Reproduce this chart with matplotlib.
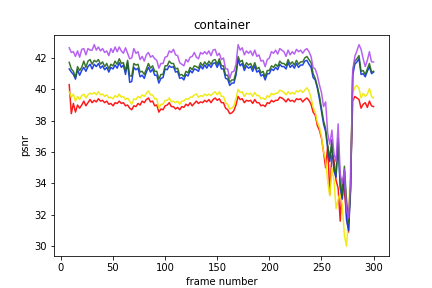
import numpy as np
import matplotlib
matplotlib.use("Agg")
import matplotlib.pyplot as plt

frames = np.arange(8, 301, 2)

red = [40.3, 38.45, 39.1, 38.55, 39.0, 38.8, 39.0, 39.25, 38.95, 39.15,
       39.35, 39.15, 39.3, 39.2, 39.4, 39.25, 39.3, 39.15, 39.25, 39.05,
       39.1, 38.95, 39.15, 39.1, 39.25, 39.1, 39.15, 38.95, 39.0, 38.8,
       38.7, 38.95, 38.9, 39.1, 39.0, 39.25, 39.15, 39.35, 39.45, 39.2,
       39.25, 38.95, 39.0, 38.55, 38.75, 38.7, 38.95, 39.0, 39.15, 38.9,
       38.9, 38.75, 38.85, 38.7, 38.9, 38.85, 39.05, 38.95, 39.15, 38.95,
       39.1, 39.25, 39.1, 39.2, 39.15, 39.3, 39.2, 39.35, 39.15, 39.35,
       39.45, 39.3, 39.4, 39.15, 39.15, 38.8, 38.7, 38.45, 38.5, 38.65,
       39.0, 39.55, 39.35, 39.4, 39.15, 39.3, 39.25, 39.3, 39.1, 39.35,
       39.15, 39.15, 38.95, 39.0, 38.9, 39.15, 39.1, 39.3, 39.2, 39.3,
       39.3, 39.5, 39.45, 39.35, 39.2, 39.4, 39.25, 39.3, 39.2, 39.4,
       39.35, 39.4, 39.2, 39.35, 39.45, 39.3, 39.05, 38.55, 38.35, 37.7,
       37.4, 36.9, 36.0, 35.0, 36.4, 33.3, 35.8, 35.5, 34.2, 33.7,
       31.6, 34.3, 33.5, 32.0, 30.9, 34.5, 39.25, 39.55, 39.45, 39.35,
       38.8, 39.05, 39.15, 38.85, 39.25, 38.95, 38.9]

yellow = [39.85, 39.5, 39.7, 39.25, 39.55, 39.35, 39.6, 39.7, 39.45, 39.65,
          39.75, 39.7, 39.8, 39.65, 39.85, 39.65, 39.7, 39.55, 39.65, 39.45,
          39.5, 39.4, 39.6, 39.5, 39.7, 39.5, 39.55, 39.35, 39.45, 39.25,
          39.05, 39.4, 39.35, 39.55, 39.45, 39.65, 39.55, 39.75, 39.9, 39.65,
          39.65, 39.4, 39.4, 38.8, 39.05, 39.05, 39.3, 39.3, 39.45, 39.2,
          39.25, 39.15, 39.25, 39.05, 39.25, 39.25, 39.4, 39.35, 39.5, 39.5,
          39.65, 39.7, 39.5, 39.6, 39.55, 39.7, 39.6, 39.7, 39.6, 39.75,
          39.85, 39.65, 39.85, 39.55, 39.55, 39.15, 39.05, 38.75, 38.8, 38.95,
          39.4, 40.0, 39.8, 39.85, 39.55, 39.75, 39.7, 39.75, 39.55, 39.8,
          39.6, 39.6, 39.4, 39.45, 39.35, 39.6, 39.5, 39.75, 39.65, 39.75,
          39.75, 39.95, 39.9, 39.8, 39.65, 39.85, 39.7, 39.8, 39.7, 39.9,
          39.85, 39.95, 39.8, 39.95, 40.1, 39.9, 39.45, 38.85, 38.55, 37.9,
          37.6, 37.0, 36.0, 35.5, 34.1, 33.2, 35.0, 34.2, 32.4, 33.0,
          33.4, 32.6, 30.7, 30.0, 31.8, 35.5, 39.75, 40.15, 40.25, 40.05,
          39.45, 39.75, 39.55, 39.7, 40.05, 39.55, 39.45]

blue = [41.3, 41.1, 40.95, 40.65, 41.25, 40.9, 41.2, 41.4, 41.15, 41.45,
        41.6, 41.3, 41.6, 41.45, 41.65, 41.35, 41.5, 41.25, 41.4, 41.1,
        41.4, 41.3, 41.55, 41.35, 41.7, 41.4, 41.55, 40.95, 41.7, 40.45,
        40.5, 41.4, 41.25, 41.35, 40.8, 40.9, 40.7, 41.1, 41.4, 41.1,
        41.3, 40.9, 40.9, 40.4, 40.7, 40.75, 41.3, 41.25, 41.5, 41.4,
        41.45, 41.1, 41.15, 40.7, 40.75, 40.6, 40.95, 40.85, 41.2, 41.05,
        41.3, 41.25, 41.15, 41.5, 41.3, 41.55, 41.35, 41.6, 41.4, 41.65,
        41.7, 41.4, 41.75, 41.3, 41.3, 40.7, 40.65, 40.25, 40.4, 40.4,
        40.9, 41.9, 41.5, 41.65, 41.2, 41.5, 41.35, 41.45, 41.15, 41.5,
        41.1, 41.2, 40.85, 40.95, 40.6, 41.0, 41.0, 41.3, 41.2, 41.4,
        41.25, 41.6, 41.45, 41.45, 41.3, 41.7, 41.4, 41.55, 41.35, 41.65,
        41.4, 41.55, 41.55, 41.8, 41.85, 41.6, 41.4, 40.75, 40.6, 40.1,
        39.4, 38.6, 37.8, 37.3, 36.2, 35.4, 36.5, 34.8, 34.4, 36.6,
        33.7, 33.0, 34.8, 31.7, 31.0, 33.6, 40.9, 41.6, 41.75, 41.95,
        40.95, 41.0, 40.8, 41.15, 41.45, 41.0, 41.1]

green = [41.72, 41.3, 41.15, 40.75, 41.45, 41.2, 41.4, 41.8, 41.4, 41.8,
         41.9, 41.6, 41.85, 41.75, 41.9, 41.6, 41.75, 41.45, 41.65, 41.3,
         41.6, 41.5, 41.8, 41.6, 41.95, 41.65, 41.7, 41.15, 41.85, 40.85,
         40.85, 41.65, 41.55, 41.6, 41.1, 41.15, 40.95, 41.3, 41.65, 41.35,
         41.5, 41.15, 41.15, 40.65, 40.95, 40.95, 41.5, 41.5, 41.8, 41.65,
         41.65, 41.3, 41.35, 40.9, 40.95, 40.8, 41.15, 41.05, 41.4, 41.25,
         41.5, 41.45, 41.35, 41.7, 41.5, 41.75, 41.55, 41.8, 41.6, 41.85,
         41.9, 41.6, 41.95, 41.5, 41.5, 40.9, 40.9, 40.45, 40.6, 40.6,
         41.1, 42.1, 41.75, 41.85, 41.4, 41.7, 41.55, 41.65, 41.35, 41.7,
         41.3, 41.4, 41.05, 41.15, 40.8, 41.2, 41.2, 41.5, 41.4, 41.6,
         41.45, 41.8, 41.65, 41.65, 41.5, 41.9, 41.6, 41.75, 41.55, 41.85,
         41.6, 41.75, 41.75, 42.0, 42.1, 41.9, 41.7, 41.0, 40.7, 40.2,
         39.6, 38.8, 38.0, 37.5, 36.4, 35.6, 36.8, 35.0, 34.6, 36.9,
         33.9, 33.2, 35.1, 33.0, 31.5, 33.8, 41.2, 41.8, 41.95, 42.15,
         41.15, 41.2, 40.95, 41.3, 41.65, 41.1, 41.15]

purple = [42.65, 42.35, 42.4, 42.1, 42.45, 42.05, 42.55, 42.6, 42.2, 42.6,
          42.5, 42.5, 42.85, 42.5, 42.7, 42.45, 42.6, 42.35, 42.45, 42.15,
          42.6, 42.35, 42.7, 42.4, 42.7, 42.45, 42.3, 42.65, 42.3, 41.95,
          42.0, 42.6, 42.3, 42.4, 41.9, 42.1, 41.8, 42.2, 42.35, 42.05,
          42.15, 41.95, 41.85, 41.35, 41.65, 41.65, 42.05, 42.1, 42.45, 42.35,
          42.55, 42.2, 42.15, 41.7, 41.6, 41.5, 41.9, 41.75, 42.05, 42.1,
          42.35, 42.05, 41.95, 42.35, 42.25, 42.4, 42.25, 42.45, 42.15, 42.5,
          42.55, 42.15, 42.3, 41.9, 42.0, 41.3, 41.3, 40.7, 41.1, 41.15,
          41.6, 42.85, 42.5, 42.65, 42.2, 42.45, 42.3, 42.45, 42.15, 42.5,
          42.1, 42.2, 41.8, 41.85, 41.45, 41.9, 42.0, 42.4, 42.3, 42.5,
          42.25, 42.6, 42.5, 42.4, 42.1, 42.5, 42.2, 42.4, 42.25, 42.55,
          42.4, 42.5, 42.3, 42.5, 42.6, 42.4, 42.1, 41.4, 41.3, 40.9,
          40.3, 39.8, 38.9, 39.2, 37.2, 36.5, 37.4, 35.9, 35.4, 37.8,
          34.6, 34.0, 34.9, 32.3, 31.8, 34.3, 41.2, 42.1, 42.45, 42.85,
          42.55, 41.95, 41.45, 41.85, 42.4, 41.75, 41.75]

series = [
    (red, "#ff0000"),
    (yellow, "#f0e800"),
    (blue, "#0a30e6"),
    (green, "#246618"),
    (purple, "#b050f0"),
]

fig, ax = plt.subplots(figsize=(6, 4), dpi=72)
for vals, col in series:
    ax.plot(frames, vals, color=col, linewidth=1.5, alpha=0.9)

ax.set_title("container")
ax.set_xlabel("frame number")
ax.set_ylabel("psnr")
ax.set_xticks([0, 50, 100, 150, 200, 250, 300])
ax.set_yticks([30, 32, 34, 36, 38, 40, 42])
fig.savefig("out.png", dpi=72)
